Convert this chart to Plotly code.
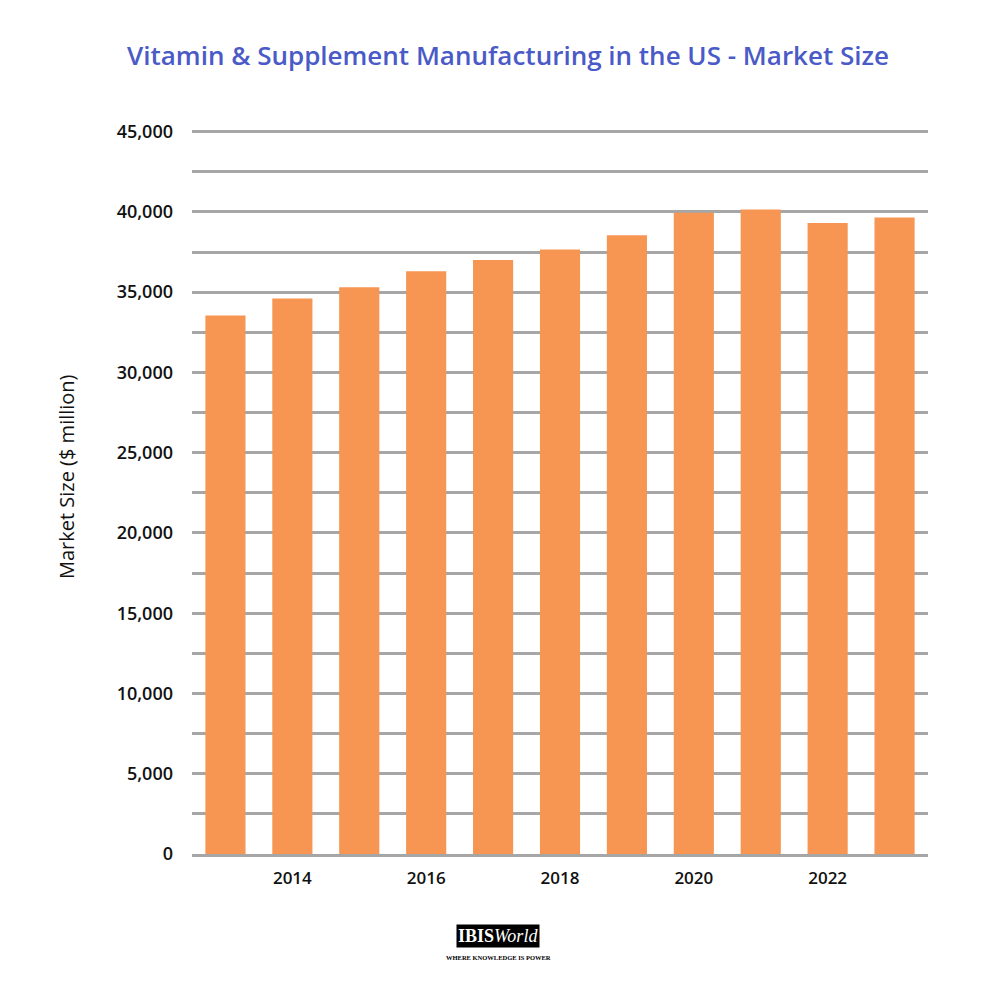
import plotly.graph_objects as go

years = [2013, 2014, 2015, 2016, 2017, 2018, 2019, 2020, 2021, 2022, 2023]
market_size = [33550, 34600, 35300, 36300, 37000, 37650, 38550, 39950, 40150, 39300, 39650]
tick_years = [2014, 2016, 2018, 2020, 2022]
tick_labels = ["2014", "2016", "2018", "2020", "2022"]

fig = go.Figure()
fig.add_trace(go.Bar(x=years, y=market_size, marker=dict(color="#F79553", line=dict(width=0)),
                     hoverinfo="x+y"))

FONT = "Open Sans"
fig.update_layout(
    width=1000, height=1000,
    paper_bgcolor="white", plot_bgcolor="white",
    margin=dict(l=184, r=80, t=122, b=154),
    bargap=0.4,
    showlegend=False,
    title=dict(text="Vitamin &amp; Supplement Manufacturing in the US - Market Size",
               x=0.5, xanchor="center", y=0.952, yanchor="middle",
               font=dict(family=FONT, size=26, color="#4A5AC7", weight=600)),
    font=dict(family=FONT, color="#111111"),
)
fig.update_xaxes(
    tickmode="array", tickvals=tick_years, ticktext=tick_labels,
    range=[2012.5, 2023.5], showgrid=False, zeroline=False,
    showline=True, linecolor="#A6A6A6", linewidth=3,
    tickfont=dict(size=17, color="#111111", weight=600), ticks="", ticklabelstandoff=7,
)
fig.update_yaxes(
    range=[0, 45100], dtick=5000, tickformat=",d",
    showgrid=True, gridcolor="#A6A6A6", gridwidth=3,
    minor=dict(dtick=2500, showgrid=True, gridcolor="#A6A6A6", gridwidth=3),
    zeroline=False, showline=False, ticks="",
    tickfont=dict(size=18, color="#111111", weight=600), ticklabelstandoff=18,
)

# Y-axis title as annotation (positioned like the reference)
fig.add_annotation(xref="paper", yref="paper", x=-0.1712, y=0.522,
                   text="Market Size ($ million)", textangle=-90, showarrow=False,
                   font=dict(family=FONT, size=20, color="#111111"),
                   xanchor="center", yanchor="middle")

# IBISWorld logo as text
fig.add_annotation(xref="paper", yref="paper", x=0.4158, y=-0.1126,
                   text="<b>IBIS</b><i>World</i>", showarrow=False,
                   font=dict(family="Liberation Serif", size=18, color="white"),
                   bgcolor="black", borderpad=1, xanchor="center", yanchor="middle")
fig.add_annotation(xref="paper", yref="paper", x=0.4158, y=-0.1436,
                   text="<b>WHERE KNOWLEDGE IS POWER</b>", showarrow=False,
                   font=dict(family="Liberation Serif", size=6.5, color="black"),
                   xanchor="center", yanchor="middle")

fig.write_html("out.html")
